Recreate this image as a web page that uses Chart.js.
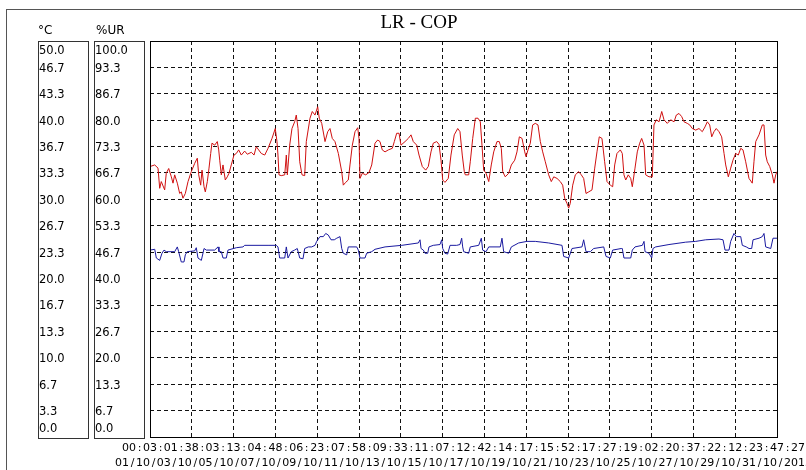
<!DOCTYPE html>
<html>
<head>
<meta charset="utf-8">
<script src="https://cdn.jsdelivr.net/npm/chart.js@4.4.1/dist/chart.umd.min.js"></script>
<style>
  html, body { margin: 0; padding: 0; background: #fff; }
  canvas { display: block; }
</style>
</head>
<body>
<canvas id="grafico" width="806" height="470"></canvas>
<script>
// dados (horas desde 01/10 00:03:27)
const chartTitle = 'LR - COP';
const spanHours = 743.73;

const timeTicks = ['00:03:27', '01:38:23', '03:13:19', '04:48:15', '06:23:11', '07:58:07', '09:33:03', '11:07:59',
    '12:42:55', '14:17:51', '15:52:47', '17:27:43', '19:02:39', '20:37:35', '22:12:31', '23:47:27'];
const dateTicks = ['01/10/2015', '03/10/2015', '05/10/2015', '07/10/2015', '09/10/2015', '11/10/2015', '13/10/2015', '15/10/2015',
    '17/10/2015', '19/10/2015', '21/10/2015', '23/10/2015', '25/10/2015', '27/10/2015', '29/10/2015', '31/10/2015'];
const tempTicks = ['0.0', '3.3', '6.7', '10.0', '13.3', '16.7', '20.0', '23.3', '26.7', '30.0', '33.3', '36.7', '40.0', '43.3', '46.7', '50.0'];
const urTicks = ['0.0', '6.7', '13.3', '20.0', '26.7', '33.3', '40.0', '46.7', '53.3', '60.0', '66.7', '73.3', '80.0', '86.7', '93.3', '100.0'];

// %UR (vermelho)
const redHours = [0, 5.6, 9.5, 11.5, 13.4, 17.4, 19.3, 22.2, 25.3, 27.3, 29.3, 32.4, 35.2, 37.1, 39.1, 41.9, 45.1, 49.0, 53.0, 56.1,
    57.8, 60.1, 61.7, 64.1, 65.6, 68.0, 70.0, 72.0, 73.5, 76.7, 79.8, 81.5, 82.7, 84.6, 86.6, 89.3, 91.7, 93.7, 96.4, 99.6,
    102.4, 105.2, 108.3, 112.3, 115.4, 120.2, 123.4, 126.1, 128.9, 132.0, 136.1, 140.0, 144.7, 148.6, 150.6, 151.8, 153.0, 155.7, 159.8, 161.7,
    162.9, 165.7, 168.4, 171.6, 173.5, 175.6, 177.6, 180.3, 183.5, 185.4, 189.8, 192.5, 195.7, 198.9, 200.8, 203.7, 207.6, 210.8, 213.5, 216.2,
    219.4, 223.4, 227.4, 229.3, 232.1, 235.2, 237.2, 240.0, 243.2, 246.4, 247.9, 249.1, 251.8, 255.9, 259.8, 263.0, 266.9, 270.1, 272.8, 275.5,
    278.8, 282.7, 287.4, 289.8, 292.6, 295.4, 297.7, 302.5, 306.4, 309.6, 312.3, 316.4, 319.1, 323.0, 327.0, 330.1, 333.3, 336.0, 340.1, 342.8,
    345.2, 347.2, 349.9, 353.8, 357.0, 360.9, 365.0, 367.7, 370.4, 372.8, 374.0, 378.0, 379.9, 382.8, 385.9, 389.1, 391.8, 393.8, 395.8, 398.6,
    401.8, 404.8, 407.7, 411.6, 414.3, 416.7, 418.4, 421.4, 425.5, 428.6, 432.6, 435.3, 438.1, 441.3, 444.5, 446.0, 448.4, 451.1, 453.9, 457.0,
    460.2, 463.0, 465.8, 468.9, 472.9, 476.0, 478.9, 482.8, 486.7, 489.5, 491.9, 494.6, 496.6, 498.5, 501.4, 504.5, 508.5, 511.6, 514.4, 517.2,
    520.4, 524.3, 527.5, 530.2, 532.9, 536.1, 539.3, 542.1, 546.0, 548.8, 551.2, 553.9, 557.9, 560.2, 562.2, 564.3, 567.3, 570.2, 572.1, 575.3,
    578.0, 580.9, 583.2, 586.0, 588.0, 591.9, 595.8, 597.8, 600.6, 603.8, 607.0, 609.7, 613.6, 617.6, 621.6, 624.3, 627.5, 630.7, 633.4, 637.3,
    640.2, 643.3, 647.3, 651.2, 655.1, 658.3, 661.1, 663.9, 666.3, 669.0, 671.7, 674.9, 678.1, 680.9, 682.9, 686.0, 688.8, 691.5, 694.7, 697.8,
    700.7, 703.4, 706.6, 710.5, 714.4, 716.4, 718.5, 722.4, 726.3, 728.3, 730.3, 732.2, 735.1, 738.2, 740.2, 742.2, 743.7];
const redUR = [68.3, 68.7, 67.9, 62.8, 64.5, 62.4, 66.6, 67.8, 65.7, 64.1, 66.2, 64.1, 61.5, 61.9, 60.3, 61.5, 64.5, 67.0, 69.1, 70.4,
    66.2, 63.6, 67.4, 63.2, 61.9, 64.5, 67.9, 71.6, 74.2, 73.7, 74.6, 72.5, 69.9, 66.2, 68.7, 64.9, 65.7, 66.6, 68.7, 71.2,
    71.6, 72.5, 71.2, 72.2, 71.4, 71.9, 71.2, 73.3, 72.5, 71.6, 71.2, 72.9, 75.4, 77.9, 74.6, 71.2, 66.2, 66.0, 66.2, 71.2,
    66.2, 73.7, 77.9, 79.6, 81.3, 77.9, 69.5, 66.2, 66.0, 74.6, 80.5, 82.2, 81.3, 83.4, 80.5, 79.2, 74.6, 77.1, 77.9, 75.4,
    74.6, 71.6, 67.0, 63.6, 64.3, 64.9, 68.7, 73.7, 77.1, 78.1, 75.4, 65.3, 66.6, 66.2, 66.8, 68.7, 74.2, 75.0, 74.6, 72.5,
    72.0, 72.5, 72.9, 74.6, 76.7, 76.7, 73.7, 74.6, 75.4, 76.3, 74.6, 73.7, 71.2, 68.3, 67.4, 68.3, 72.0, 74.2, 74.6, 73.9,
    69.9, 64.9, 64.3, 65.3, 71.2, 76.3, 77.9, 77.1, 71.2, 67.0, 66.2, 66.2, 69.5, 75.4, 80.5, 80.5, 79.6, 73.7, 67.4, 66.6,
    64.5, 68.7, 72.0, 74.6, 74.6, 72.9, 67.0, 65.7, 66.6, 68.7, 69.9, 72.0, 75.8, 75.4, 72.0, 70.8, 72.5, 74.2, 78.8, 79.2,
    78.8, 74.6, 72.0, 69.5, 66.2, 64.5, 65.7, 65.3, 64.5, 63.6, 60.3, 59.0, 57.8, 59.0, 63.6, 66.2, 67.0, 66.2, 65.3, 61.5,
    61.9, 62.4, 67.9, 72.0, 75.8, 75.4, 69.5, 64.5, 63.6, 63.2, 68.7, 71.6, 72.5, 71.6, 66.2, 64.9, 66.2, 65.3, 63.2, 67.9,
    72.0, 74.2, 75.4, 73.7, 66.2, 65.7, 65.7, 78.8, 80.1, 79.6, 82.2, 80.1, 79.2, 80.1, 79.6, 81.3, 81.7, 80.9, 79.6, 79.2,
    78.8, 77.9, 77.5, 77.9, 77.1, 78.3, 79.6, 78.8, 75.8, 77.1, 77.9, 77.1, 75.8, 71.6, 68.7, 65.7, 67.9, 69.9, 71.6, 71.2,
    72.9, 72.5, 69.5, 65.3, 64.1, 69.5, 74.6, 76.3, 78.8, 78.8, 71.2, 69.5, 68.3, 66.2, 64.1, 66.2, 67.0];

// °C (azul)
const blueHours = [0, 5.6, 7.5, 11.5, 14.2, 16.6, 19.3, 29.3, 32.4, 34.0, 37.1, 40.3, 41.9, 44.2, 53.0, 54.9, 56.9, 60.9, 64.1, 66.8,
    76.7, 80.7, 81.8, 84.6, 86.6, 90.5, 92.5, 102.4, 110.3, 112.3, 140.0, 149.8, 151.8, 153.8, 159.8, 161.7, 163.7, 167.6, 171.6, 174.7,
    177.6, 181.5, 183.5, 187.8, 191.8, 195.7, 197.7, 201.6, 205.6, 208.4, 211.5, 214.7, 218.6, 221.5, 225.4, 227.4, 229.3, 233.3, 235.2, 245.2,
    247.1, 249.1, 255.0, 257.0, 263.0, 266.9, 278.8, 298.6, 318.3, 320.3, 321.5, 324.2, 326.2, 329.4, 330.9, 336.0, 344.0, 346.0, 347.2, 349.9,
    353.1, 355.9, 363.8, 367.7, 369.7, 370.9, 372.1, 378.0, 379.9, 389.9, 393.0, 394.6, 398.6, 401.8, 415.5, 417.5, 419.5, 425.5, 428.6, 437.3,
    447.2, 457.0, 472.9, 488.7, 490.7, 496.6, 500.6, 512.4, 514.4, 517.2, 522.3, 526.3, 538.2, 540.9, 546.0, 548.8, 559.0, 560.2, 562.2, 570.2,
    572.1, 575.3, 584.0, 586.0, 587.2, 591.9, 595.1, 596.6, 599.8, 615.6, 635.4, 647.3, 659.2, 674.9, 679.7, 682.1, 686.8, 688.8, 692.7, 695.4,
    700.7, 702.6, 707.3, 710.5, 713.7, 715.3, 722.4, 726.3, 728.3, 730.3, 736.3, 739.0, 743.7];
const blueTemp = [23.6, 23.7, 22.6, 22.3, 23.2, 23.6, 23.4, 23.4, 24.0, 23.4, 22.1, 22.1, 23.0, 23.4, 23.5, 23.9, 22.6, 22.3, 23.8, 23.6,
    23.6, 24.0, 23.4, 23.4, 22.6, 22.6, 23.6, 23.9, 24.0, 24.2, 24.2, 24.2, 24.0, 22.6, 22.6, 24.0, 22.6, 23.4, 23.6, 23.8,
    22.6, 22.5, 23.8, 24.0, 24.0, 24.2, 24.7, 25.3, 25.3, 25.7, 25.5, 24.9, 24.9, 25.1, 25.3, 23.8, 23.2, 23.0, 24.0, 24.0,
    23.6, 22.6, 22.6, 23.2, 23.4, 23.7, 24.0, 24.2, 24.5, 24.9, 23.8, 23.6, 23.2, 23.2, 24.0, 24.2, 24.3, 24.9, 23.8, 23.2,
    23.1, 24.2, 24.2, 24.3, 25.1, 24.0, 23.4, 23.2, 24.0, 24.2, 25.1, 23.6, 23.4, 24.0, 24.0, 25.1, 23.4, 23.2, 24.0, 24.5,
    24.7, 24.7, 24.5, 24.2, 22.8, 22.6, 23.8, 24.0, 24.9, 23.4, 23.4, 23.8, 24.0, 22.8, 22.6, 23.6, 23.8, 23.8, 22.6, 22.6,
    23.6, 24.0, 24.2, 24.7, 23.4, 23.2, 22.6, 23.8, 24.0, 24.3, 24.6, 24.7, 24.9, 25.0, 24.9, 23.6, 23.6, 24.7, 25.7, 25.3,
    25.3, 24.2, 24.0, 23.8, 23.8, 24.9, 25.1, 25.3, 25.7, 24.0, 23.8, 25.1, 25.1];

const tickStep = spanHours / (timeTicks.length - 1);

// desenha texto com passo fixo de 7px por caractere, apagando o fundo
function textoFixo(ctx, texto, cx, cy) {
    let passo = 7;
    let largura = texto.length * passo;
    let x0 = cx - largura / 2;
    ctx.fillStyle = '#fff';
    ctx.fillRect(x0, cy - 7, largura, 14);
    ctx.fillStyle = '#000';
    ctx.textAlign = 'center';
    for (let i = 0; i < texto.length; i++) {
        ctx.fillText(texto[i], x0 + i * passo + passo / 2, cy);
    }
}

const pluginMoldura = {
    id: 'moldura',
    beforeDraw: function (chart) {
        let ctx = chart.ctx;
        ctx.save();
        ctx.fillStyle = '#fff';
        ctx.fillRect(0, 0, chart.width, chart.height);
        ctx.restore();
    },
    afterDraw: function (chart) {
        let ctx = chart.ctx;
        let area = chart.chartArea;
        let yC = chart.scales.yC;
        let xs = chart.scales.x;

        ctx.save();

        // moldura externa
        ctx.strokeStyle = '#555';
        ctx.lineWidth = 1;
        ctx.strokeRect(6.5, 9.5, 830, 480);

        // titulo
        ctx.font = '19px "Liberation Serif", "Times New Roman", serif';
        ctx.fillStyle = '#000';
        ctx.textAlign = 'center';
        ctx.textBaseline = 'alphabetic';
        ctx.fillText(chartTitle, 419, 28);

        // caixas dos eixos
        ctx.strokeStyle = '#333';
        ctx.strokeRect(38.5, area.top + 0.5, 50, area.bottom - area.top + 1);
        ctx.strokeRect(94.5, area.top + 0.5, 50, area.bottom - area.top + 1);

        ctx.font = '12px "DejaVu Sans", Verdana, sans-serif';
        ctx.textAlign = 'left';
        ctx.textBaseline = 'middle';
        ctx.fillStyle = '#000';
        ctx.fillText('°C', 38, 31);
        ctx.fillText('%UR', 96, 31);

        ctx.font = '11.5px "DejaVu Sans", Verdana, sans-serif';
        for (let i = 0; i < tempTicks.length; i++) {
            let y = yC.getPixelForValue(i * 50 / 15) + 1.5;
            y = Math.max(area.top + 10.5, Math.min(area.bottom - 7.5, y));
            ctx.fillText(tempTicks[i], 39, y);
            ctx.fillText(urTicks[i], 95, y);
        }

        // borda da area do grafico
        ctx.strokeStyle = '#000';
        ctx.strokeRect(Math.round(area.left) + 0.5, Math.round(area.top) + 0.5,
            Math.round(area.right - area.left), Math.round(area.bottom - area.top));

        // rotulos do eixo x (sobrepostos como no original)
        ctx.font = '11px "DejaVu Sans", Verdana, sans-serif';
        ctx.textBaseline = 'middle';
        for (let i = 0; i < timeTicks.length; i++) {
            let x = xs.getPixelForValue(i * tickStep);
            textoFixo(ctx, timeTicks[i], x, 448);
            textoFixo(ctx, dateTicks[i], x, 463);
        }

        ctx.restore();
    }
};

const ctx = document.getElementById('grafico');

new Chart(ctx, {
    type: 'line',
    data: {
        datasets: [
            {
                label: '%UR',
                data: redHours.map((h, i) => ({ x: h, y: redUR[i] })),
                yAxisID: 'yUR',
                borderColor: '#d01010',
                borderWidth: 1,
                pointRadius: 0,
                tension: 0,
                fill: false
            },
            {
                label: '°C',
                data: blueHours.map((h, i) => ({ x: h, y: blueTemp[i] })),
                yAxisID: 'yC',
                borderColor: '#1a1aa0',
                borderWidth: 1,
                pointRadius: 0,
                tension: 0,
                fill: false
            }
        ]
    },
    options: {
        responsive: false,
        animation: false,
        layout: {
            padding: { left: 150, right: 29, top: 41, bottom: 33 }
        },
        scales: {
            x: {
                type: 'linear',
                min: 0,
                max: spanHours,
                afterBuildTicks: function (scale) {
                    scale.ticks = timeTicks.map((t, i) => ({ value: i * tickStep }));
                },
                ticks: { display: false },
                grid: { color: '#111', lineWidth: 1, drawTicks: false },
                border: { display: false, dash: [4, 3] }
            },
            yC: {
                position: 'left',
                min: 0,
                max: 50,
                afterBuildTicks: function (scale) {
                    scale.ticks = tempTicks.map((t, i) => ({ value: i * 50 / 15 }));
                },
                ticks: { display: false },
                grid: { color: '#111', lineWidth: 1, drawTicks: false },
                border: { display: false, dash: [4, 3] }
            },
            yUR: {
                display: false,
                min: 0,
                max: 100
            }
        },
        plugins: {
            legend: { display: false },
            tooltip: { enabled: false }
        }
    },
    plugins: [pluginMoldura]
});
</script>
</body>
</html>
